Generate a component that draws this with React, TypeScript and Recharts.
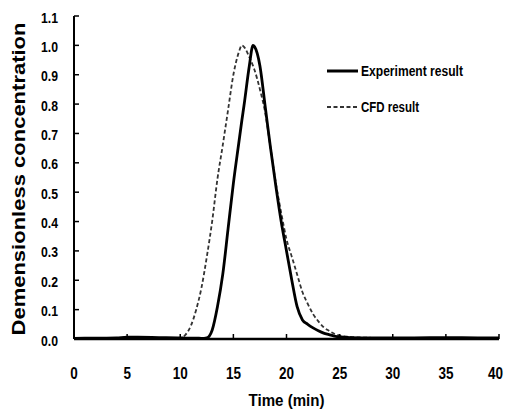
import React from 'react';
import { LineChart, Line, XAxis, YAxis, Legend } from 'recharts';

const time = [0, 2, 4, 5, 6, 8, 10, 10.5, 11, 11.5, 12, 12.5, 13, 13.5, 14, 14.5, 15, 15.5, 15.8, 16, 16.5, 16.85, 17, 17.5, 18, 18.5, 19, 19.5, 20, 20.5, 21, 21.5, 22, 22.5, 23, 23.5, 24, 24.5, 25, 26, 28, 30, 32, 35, 38, 40];
const experiment = [0.002, 0.003, 0.004, 0.006, 0.006, 0.005, 0.004, 0.003, 0.003, 0.003, 0.002, 0.004, 0.03, 0.11, 0.22, 0.375, 0.53, 0.665, 0.745, 0.795, 0.93, 1.0, 0.995, 0.93, 0.79, 0.65, 0.52, 0.40, 0.30, 0.20, 0.11, 0.065, 0.05, 0.038, 0.028, 0.02, 0.015, 0.01, 0.007, 0.005, 0.004, 0.004, 0.004, 0.005, 0.004, 0.004];
const cfd = [0.001, 0.001, 0.002, 0.003, 0.003, 0.003, 0.003, 0.015, 0.045, 0.1, 0.175, 0.28, 0.4, 0.545, 0.66, 0.78, 0.9, 0.975, 1.0, 0.995, 0.96, 0.93, 0.915, 0.85, 0.77, 0.65, 0.53, 0.43, 0.34, 0.28, 0.22, 0.16, 0.12, 0.085, 0.06, 0.04, 0.028, 0.018, 0.012, 0.007, 0.004, 0.003, 0.003, 0.004, 0.003, 0.003];
const xTicks = [0, 5, 10, 15, 20, 25, 30, 35, 40];
const yTicks = [0, 0.1, 0.2, 0.3, 0.4, 0.5, 0.6, 0.7, 0.8, 0.9, 1.0, 1.1];
const seriesNames = ['Experiment result', 'CFD result'];
const xTitle = 'Time (min)';
const yTitle = 'Demensionless concentration';

const data = time.map((t, i) => ({ t, exp: experiment[i], cfd: cfd[i] }));

const FONT = "'Liberation Sans', Arial, sans-serif";

const XTick = (props: any) => {
  const { x, y, payload } = props;
  const s = String(payload.value);
  const w = s.length * 7.5;
  const tx = Math.min(x, 503 - w / 2);
  return (
    <g>
      <line x1={x} y1={y} x2={x} y2={y - 5} stroke="#000" strokeWidth={1.5} />
      <text x={tx} y={y + 34} textAnchor="middle" dominantBaseline="central" fontFamily={FONT} fontWeight="bold" fontSize={16} fill="#000" textLength={w} lengthAdjust="spacingAndGlyphs">
        {s}
      </text>
    </g>
  );
};

const YTick = (props: any) => {
  const { x, y, payload } = props;
  const s = Number(payload.value).toFixed(1);
  return (
    <g>
      <line x1={x} y1={y} x2={x + 5} y2={y} stroke="#000" strokeWidth={1.5} />
      <text x={x - 16} y={y + 1} textAnchor="end" dominantBaseline="central" fontFamily={FONT} fontWeight="bold" fontSize={15} fill="#000" textLength={17} lengthAdjust="spacingAndGlyphs">
        {s}
      </text>
    </g>
  );
};

const LegendContent = () => (
  <svg width={160} height={60} style={{ display: 'block' }}>
    <line x1={7} y1={16} x2={38} y2={16} stroke="#000" strokeWidth={3} />
    <text x={41} y={16} dominantBaseline="central" fontFamily={FONT} fontWeight="bold" fontSize={14} fill="#000" textLength={102} lengthAdjust="spacingAndGlyphs">
      {seriesNames[0]}
    </text>
    <line x1={7} y1={52} x2={38} y2={52} stroke="#333" strokeWidth={1.8} strokeDasharray="4 2.5" />
    <text x={41} y={52} dominantBaseline="central" fontFamily={FONT} fontWeight="bold" fontSize={14} fill="#000" textLength={58} lengthAdjust="spacingAndGlyphs">
      {seriesNames[1]}
    </text>
  </svg>
);

export default function App() {
  return (
    <div style={{ position: 'absolute', left: 0, top: 0, width: 506, height: 416, background: '#fff' }}>
      <LineChart width={506} height={416} data={data} margin={{ top: 16, right: 7, bottom: 0, left: 0 }}>
        <XAxis
          dataKey="t"
          type="number"
          domain={[0, 40]}
          ticks={xTicks}
          tickLine={false}
          tickSize={0}
          tickMargin={0}
          tick={<XTick />}
          height={77}
          axisLine={{ stroke: '#000', strokeWidth: 2.5 }}
          interval={0}
          label={{
            content: (p: any) => {
              const vb = p.viewBox || {};
              return (
                <text x={vb.x + vb.width / 2} y={400} textAnchor="middle" dominantBaseline="central" fontFamily={FONT} fontWeight="bold" fontSize={16} fill="#000" textLength={76} lengthAdjust="spacingAndGlyphs">
                  {xTitle}
                </text>
              );
            },
          }}
        />
        <YAxis
          type="number"
          domain={[0, 1.1]}
          ticks={yTicks}
          tickLine={false}
          tickSize={0}
          tickMargin={0}
          tick={<YTick />}
          width={74}
          axisLine={{ stroke: '#000', strokeWidth: 2 }}
          interval={0}
          label={{
            content: () => (
              <text x={18} y={179} transform="rotate(-90 18 179)" textAnchor="middle" dominantBaseline="central" fontFamily={FONT} fontWeight="bold" fontSize={19} fill="#000" textLength={313} lengthAdjust="spacingAndGlyphs">
                {yTitle}
              </text>
            ),
          }}
        />
        <Legend content={<LegendContent />} layout="horizontal" verticalAlign="middle" align="center" wrapperStyle={{ left: 320, top: 55, width: 160, height: 60 }} />
        <Line dataKey="cfd" name={seriesNames[1]} type="monotone" stroke="#333" strokeWidth={1.8} strokeDasharray="4 2.5" dot={false} isAnimationActive={false} />
        <Line dataKey="exp" name={seriesNames[0]} type="monotone" stroke="#000" strokeWidth={2.8} dot={false} isAnimationActive={false} />
      </LineChart>
    </div>
  );
}
